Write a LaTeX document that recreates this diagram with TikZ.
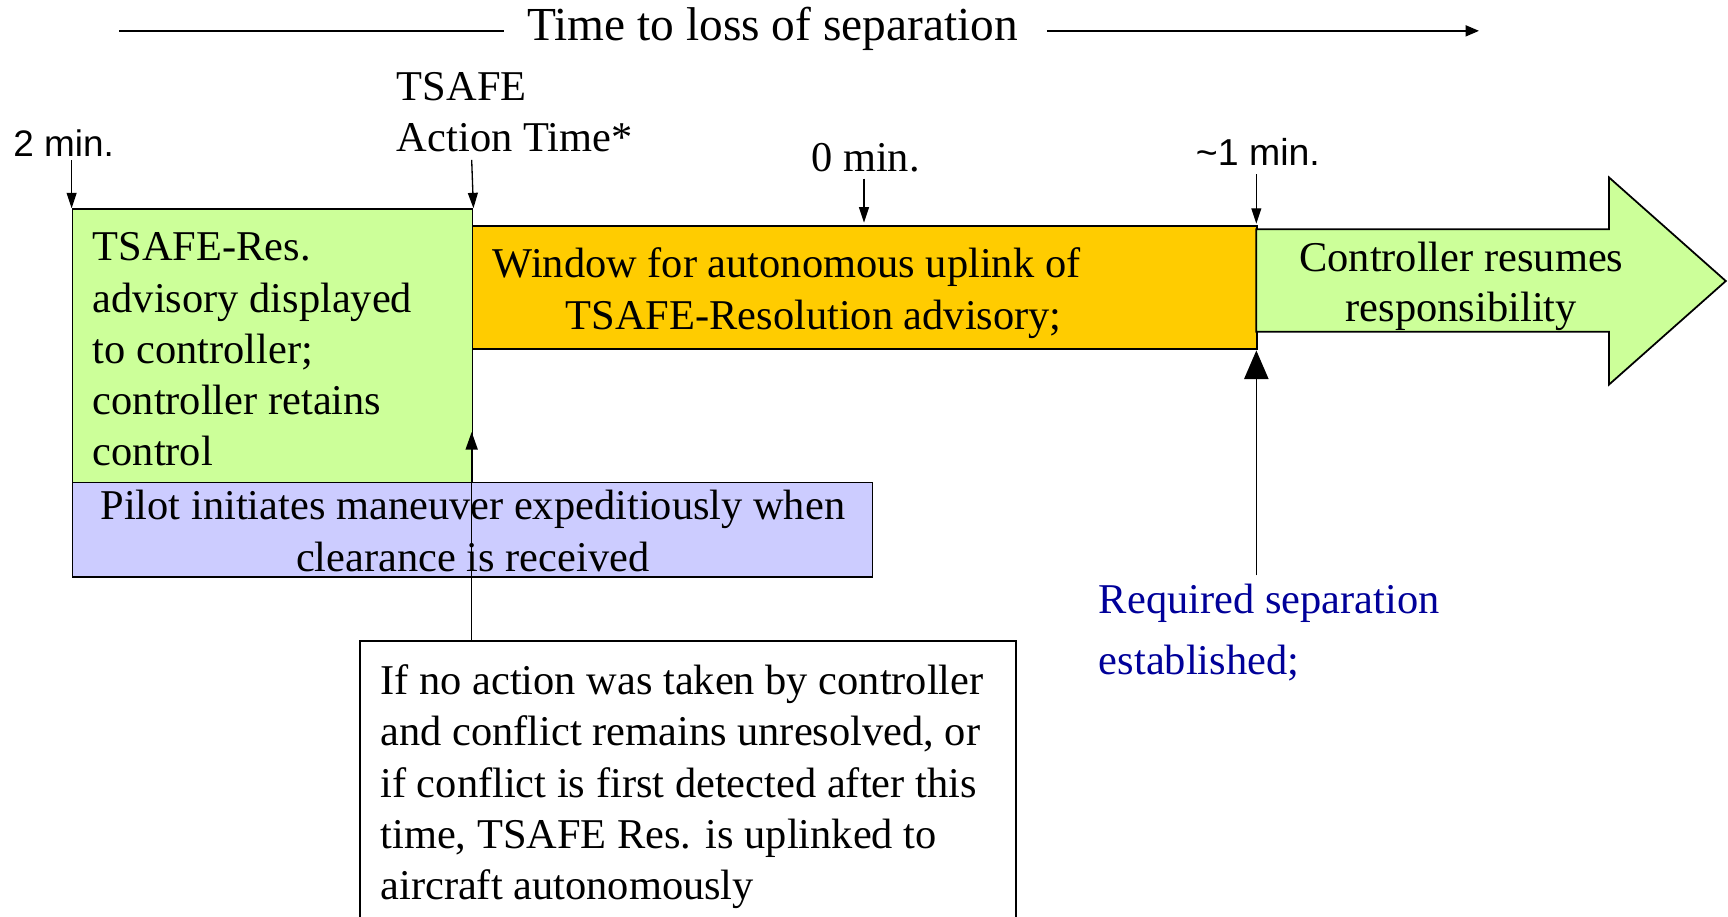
\documentclass[tikz,border=0pt]{standalone}
\usepackage{fontspec}
\setmainfont{Liberation Serif}
\newfontfamily\arialf{Liberation Sans}
\usetikzlibrary{arrows.meta}
\definecolor{lgreen}{HTML}{CCFF99}
\definecolor{gold}{HTML}{FFCC00}
\definecolor{lilac}{HTML}{CCCCFF}
\definecolor{navyt}{HTML}{000099}
\begin{document}
\begin{tikzpicture}[x=1pt,y=-1pt,
  txt/.style={font=\fontsize{38.5}{46.5}\selectfont, inner sep=0pt},
  sans/.style={font=\arialf\fontsize{34}{40}\selectfont, inner sep=0pt},
  box/.style={draw=black, line width=1.6pt, inner sep=0pt, anchor=north west},
  tick/.style={-{Triangle[width=9pt,length=14pt]}, line width=1.2pt},
  bigtip/.style={-{Triangle[width=22pt,length=26pt]}, line width=1.5pt},
  midtip/.style={-{Triangle[width=11pt,length=16pt]}, line width=1.2pt},
]
\useasboundingbox (0,0) rectangle (1568,832);

% header
\node[txt, font=\fontsize{43}{50}\selectfont, anchor=base] (hdr) at (701,37) {Time to loss of separation};
\coordinate (hl) at (108,28);
\coordinate (hle) at (457,28);
\coordinate (hrs) at (950,28);
\coordinate (hre) at (1342,28);
\draw[line width=1.2pt] (hl) -- (hle);
\draw[line width=1.2pt, -{Triangle[width=10pt,length=12pt]}] (hrs) -- (hre);

% boxes
\node[box, fill=lgreen, minimum width=363pt, minimum height=248pt] (green) at (65,189) {};
\node[box, fill=gold, minimum width=712pt, minimum height=112pt] (gold) at (428,204) {};
\draw[line width=1.6pt, fill=lgreen] (1140,208) -- (1460,208) -- (1460,161) -- (1566,255)
   -- (1460,349) -- (1460,301) -- (1140,301) -- cycle;
\node[box, fill=lilac, minimum width=726pt, minimum height=86pt] (lilac) at (65,437) {};
\node[box, fill=white, minimum width=595pt, minimum height=255pt] (bot) at (326,581) {};

% texts in boxes
\node[txt, align=left, anchor=north west] (gtxt) at (84,204)
  {\strut TSAFE-Res.\\advisory displayed\\to controller;\\controller retains\\control};
\node[txt, align=left, anchor=north west] (ytxt) at (447,219.5)
  {\strut Window for autonomous uplink of\\\hspace*{66pt}TSAFE-Resolution advisory;};
\node[txt, align=center, anchor=north, font=\fontsize{38.5}{45}\selectfont] (atxt) at (1326,215)
  {\strut Controller resumes\\responsibility};
\node[txt, align=center, anchor=north] (ptxt) at (429,439)
  {\strut Pilot initiates maneuver expeditiously when\\clearance is received};
\node[txt, align=left, anchor=north west] (btxt) at (345,597.5)
  {\strut If no action was taken by controller\\and conflict remains unresolved, or\\if conflict is first detected after this\\time, TSAFE Res. is uplinked to\\aircraft autonomously};
\node[txt, align=left, anchor=north west, text=navyt, font=\fontsize{38.5}{55}\selectfont] (req) at (997,518)
  {\strut Required separation\\established;};

% time labels
\node[sans, anchor=base west, font=\arialf\fontsize{33.5}{40}\selectfont] (t2) at (12,142) {2 min.};
\node[txt, align=left, anchor=north west] (tact) at (360,58.5) {\strut TSAFE\\Action Time*};
\node[txt, anchor=base west] (t0) at (736,156) {0 min.};
\node[sans, anchor=base west] (t1) at (1085,150) {\textasciitilde1 min.};

% tick arrows
\coordinate (a2) at (65,145);
\coordinate (aA) at (428,145);
\coordinate (a0) at (784,162);
\coordinate (a1) at (1140,158);
\draw[tick] (a2) -- (green.north west);
\draw[tick] (aA) -- (green.north east);
\draw[tick] (a0) -- (784,202);
\draw[tick] (a1) -- (1140,203);

% connector from bottom box to action time
\coordinate (tipA) at (428,392);
\draw[midtip] (bot.north west -| tipA) -- (tipA);

% required separation arrow
\coordinate (rs) at (1140,522);
\draw[bigtip] (rs) -- (1140,318);
\end{tikzpicture}
\end{document}
